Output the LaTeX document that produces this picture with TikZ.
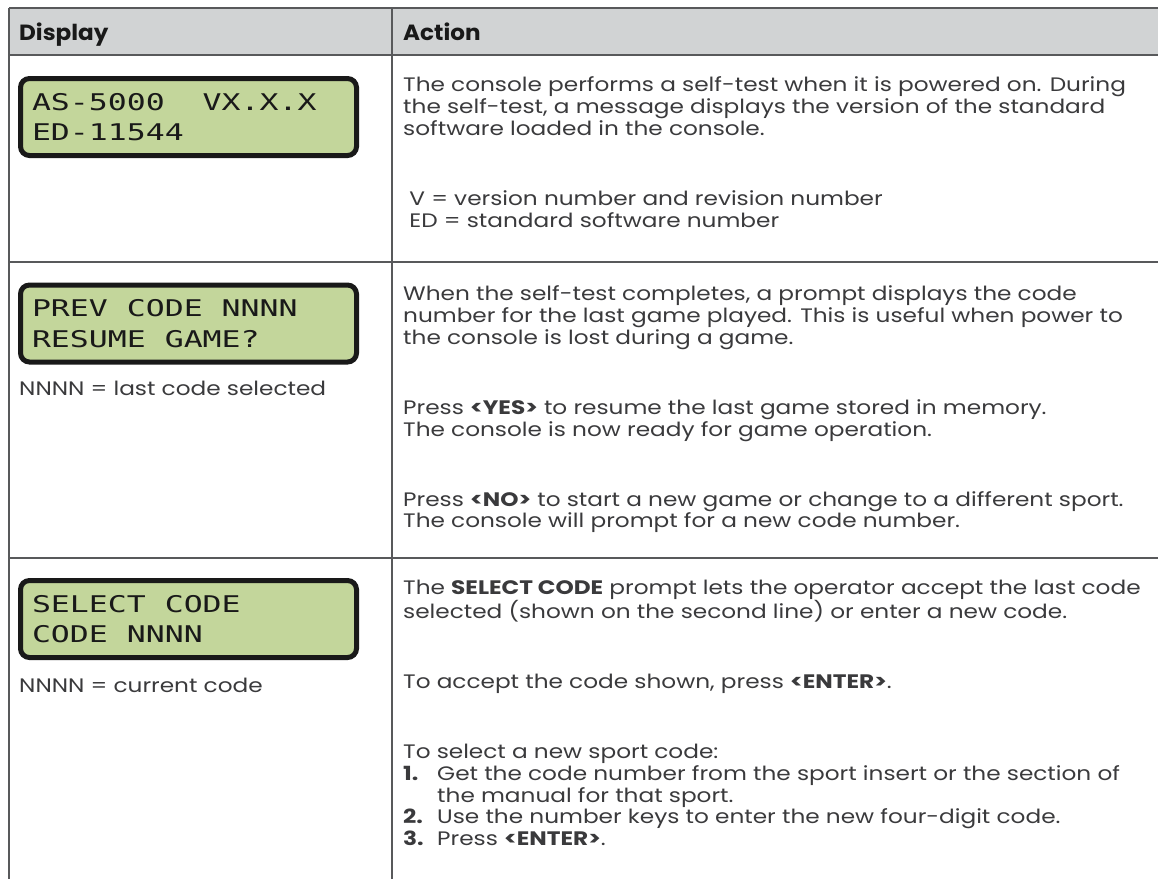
\documentclass[tikz,border=0pt]{standalone}
\usepackage{fontspec}
\setmainfont{Poppins}[FakeStretch=1.19]
\newfontfamily\headfont{Poppins}[FakeStretch=1.05]
\newfontfamily\lcdfont[FakeStretch=1.37]{DejaVu Sans Mono}
\usepackage{tikz}
\usetikzlibrary{positioning}
\definecolor{rulegray}{RGB}{88,89,91}
\definecolor{headgray}{RGB}{209,211,212}
\definecolor{lcdgreen}{RGB}{195,214,155}
\definecolor{inkgray}{RGB}{58,58,60}
\newcommand{\blankline}{\\[48.3pt]}
\newcommand{\stepno}[1]{\makebox[34pt][l]{\textbf{#1}}}
\tikzset{
  lcd/.style={draw=black!90,fill=lcdgreen,line width=5pt,rounded corners=9pt,
    minimum width=336pt,minimum height=77pt,inner xsep=11.5pt,text width=313pt,
    align=left,text=black!90,font=\lcdfont\fontsize{23}{30.5}\selectfont,
    execute at begin node={\spaceskip=\fontcharwd\font`0\relax}},
  body/.style={anchor=north west,inner sep=0pt,align=left,text=inkgray,
    font=\fontsize{19.5}{21.7}\selectfont,execute at begin node={\strut}},
  note/.style={anchor=base west,inner sep=0pt,text=inkgray,
    font=\fontsize{19.5}{21.7}\selectfont},
  head/.style={anchor=base west,inner sep=0pt,text=black!90,
    font=\headfont\fontsize{22}{24}\selectfont\bfseries},
  rule/.style={draw=rulegray,line width=1.5pt},
}

\begin{document}
\begin{tikzpicture}[x=1pt,y=-1pt]
  \useasboundingbox (0,0) rectangle (1158,879);

  % table frame
  \fill[headgray] (9,8) rectangle (1158,55);
  \draw[rule,line width=2pt] (9,8) -- (1158,8) (9,55) -- (1158,55);
  \draw[rule] (9,262) -- (1158,262) (9,558) -- (1158,558);
  \draw[rule] (9,8) -- (9,879) (392,8) -- (392,879);

  \node[head] (hdisp) at (19,40) {Display};
  \node[head] (hact) at (403,40) {Action};

  % displays
  \node[lcd] (boot) at (188.5,117) {AS-5000~ VX.X.X\\ED-11544};
  \node[lcd] (prev) at (188.5,323.5) {PREV CODE NNNN\\RESUME GAME?};
  \node[lcd] (sel) at (188.5,619) {SELECT CODE\\CODE NNNN};
  \node[note] (prevnote) at (19,395) {NNNN = last code selected};
  \node[note] (selnote) at (19,692) {NNNN = current code};

  % actions
  \node[body] (bootact) at (403,76.8) {The console performs a self-test when it is powered on. During\\
    the self-test, a message displays the version of the standard\\
    software loaded in the console.\blankline
    \ V = version number and revision number\\
    \ ED = standard software number};
  \node[body] (prevact) at (403,285.8) {When the self-test completes, a prompt displays the code\\
    number for the last game played. This is useful when power to\\
    the console is lost during a game.\blankline
    Press \textbf{<YES>} to resume the last game stored in memory.\\
    The console is now ready for game operation.\blankline
    Press \textbf{<NO>} to start a new game or change to a different sport.\\
    The console will prompt for a new code number.};
  \node[body] (selact) at (403,579.8) {The \textbf{SELECT CODE} prompt lets the operator accept the last code\\
    selected (shown on the second line) or enter a new code.\blankline
    To accept the code shown, press \textbf{<ENTER>}.\blankline
    To select a new sport code:\\
    \stepno{1.}Get the code number from the sport insert or the section of\\
    \hspace*{34pt}the manual for that sport.\\
    \stepno{2.}Use the number keys to enter the new four-digit code.\\
    \stepno{3.}Press \textbf{<ENTER>}.};
\end{tikzpicture}
\end{document}
